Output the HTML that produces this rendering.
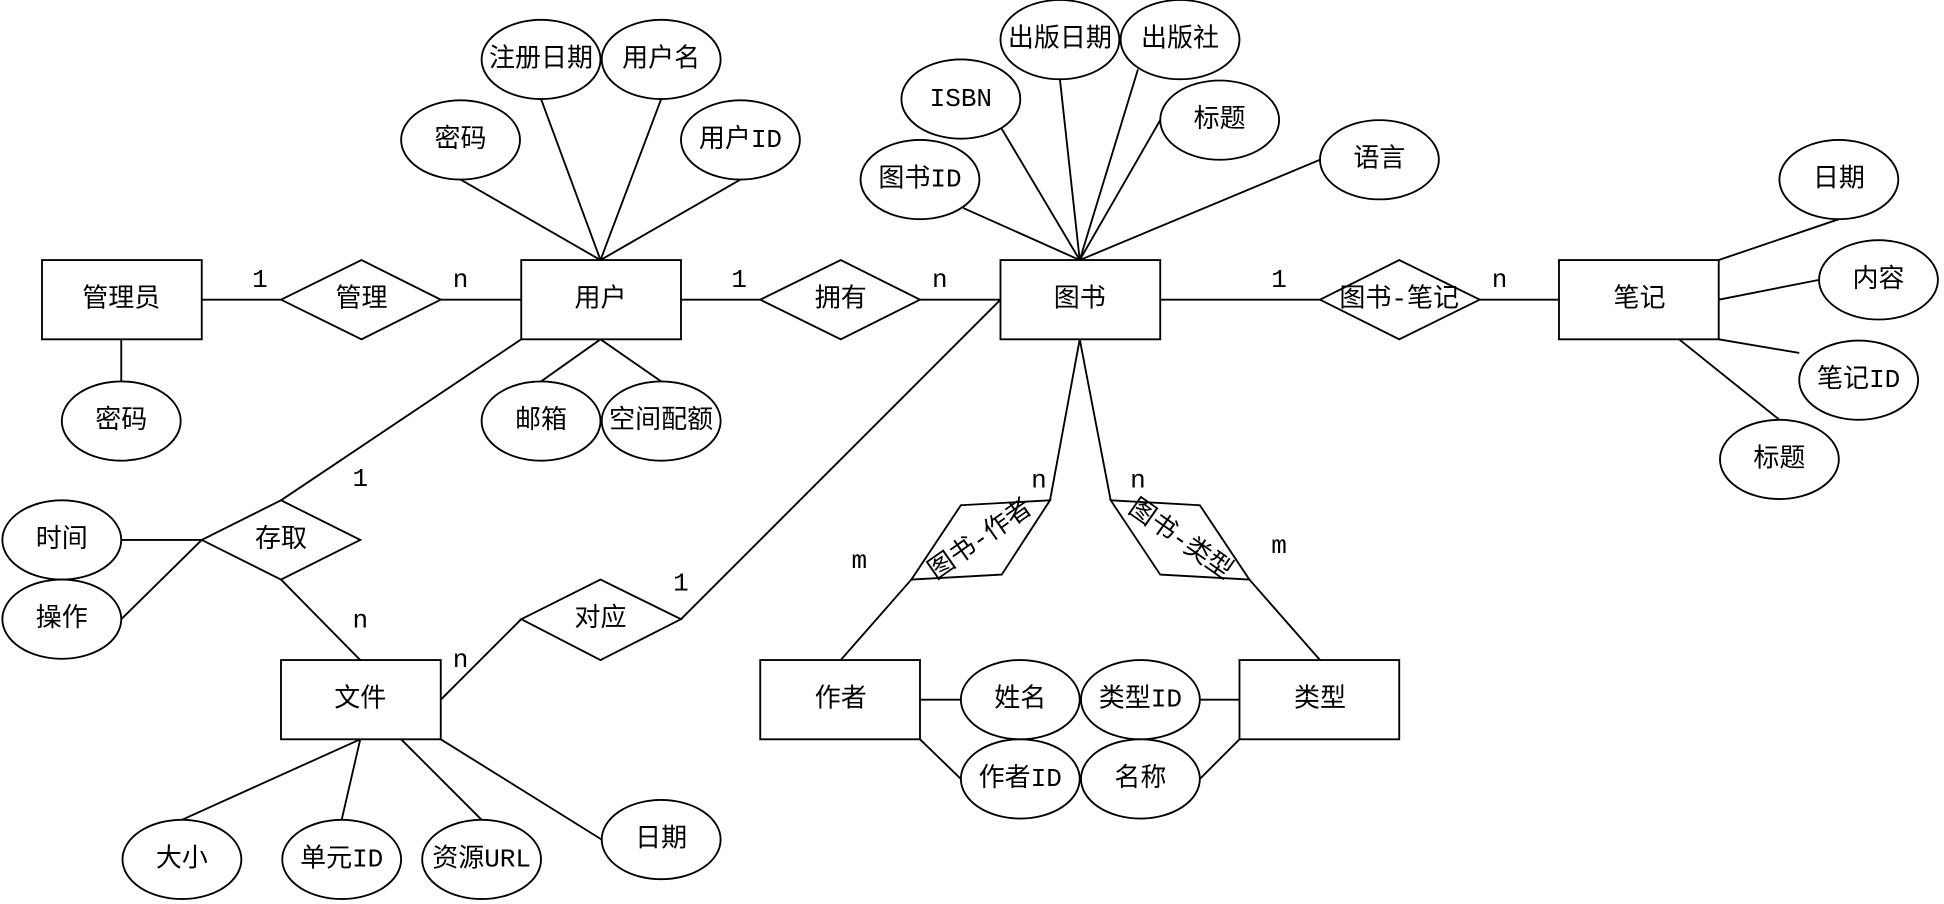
<!DOCTYPE html>
<html><head><meta charset="utf-8"><style>
html,body{margin:0;padding:0;background:#fff;}
svg{display:block;}
text{font-family:"Liberation Mono","Noto Sans CJK SC",monospace;font-size:21px;fill:#000;text-anchor:middle;dominant-baseline:central;}
</style></head><body>
<svg width="1944" height="904" viewBox="0 0 1568 730" xmlns="http://www.w3.org/2000/svg">
<g stroke="#000" stroke-width="1.5" fill="none">
<line x1="97" y1="274" x2="97" y2="308"/>
<line x1="162" y1="242" x2="226" y2="242"/>
<line x1="355" y1="242" x2="420" y2="242"/>
<line x1="371" y1="145" x2="484" y2="210"/>
<line x1="436" y1="80" x2="484" y2="210"/>
<line x1="533" y1="80" x2="484" y2="210"/>
<line x1="597" y1="145" x2="484" y2="210"/>
<line x1="436" y1="308" x2="484" y2="274"/>
<line x1="533" y1="308" x2="484" y2="274"/>
<line x1="549" y1="242" x2="613" y2="242"/>
<line x1="742" y1="242" x2="807" y2="242"/>
<line x1="808" y1="104" x2="871" y2="210"/>
<line x1="855" y1="64" x2="871" y2="210"/>
<line x1="918" y1="56" x2="871" y2="210"/>
<line x1="936" y1="97" x2="871" y2="210"/>
<line x1="1065" y1="129" x2="871" y2="210"/>
<line x1="777" y1="168" x2="871" y2="210"/>
<line x1="936" y1="242" x2="1065" y2="242"/>
<line x1="1194" y1="242" x2="1258" y2="242"/>
<line x1="1387" y1="210" x2="1484" y2="177"/>
<line x1="1387" y1="242" x2="1468" y2="226"/>
<line x1="1387" y1="274" x2="1452" y2="285"/>
<line x1="1355" y1="274" x2="1436" y2="339"/>
<line x1="97" y1="436" x2="162" y2="436"/>
<line x1="97" y1="500" x2="162" y2="436"/>
<line x1="420" y1="274" x2="226" y2="404"/>
<line x1="226" y1="468" x2="290" y2="533"/>
<line x1="355" y1="565" x2="420" y2="500"/>
<line x1="549" y1="500" x2="807" y2="242"/>
<line x1="290" y1="597" x2="146" y2="662"/>
<line x1="290" y1="597" x2="275" y2="662"/>
<line x1="323" y1="597" x2="388" y2="662"/>
<line x1="355" y1="597" x2="485" y2="678"/>
<line x1="871" y1="274" x2="847" y2="404"/>
<line x1="735" y1="468" x2="678" y2="533"/>
<line x1="871" y1="274" x2="896" y2="404"/>
<line x1="1008" y1="468" x2="1065" y2="533"/>
<line x1="742" y1="565" x2="775" y2="565"/>
<line x1="968" y1="565" x2="1000" y2="565"/>
<line x1="742" y1="597" x2="775" y2="629"/>
<line x1="968" y1="629" x2="1000" y2="597"/>
</g>
<g stroke="#000" stroke-width="1.5" fill="#fff">
<rect x="33" y="210" width="129" height="64"/>
<rect x="420" y="210" width="129" height="64"/>
<rect x="807" y="210" width="129" height="64"/>
<rect x="1258" y="210" width="129" height="64"/>
<rect x="226" y="533" width="129" height="64"/>
<rect x="613" y="533" width="129" height="64"/>
<rect x="1000" y="533" width="129" height="64"/>
<polygon points="226,242 291,210 355,242 291,274"/>
<polygon points="613,242 678,210 742,242 678,274"/>
<polygon points="1065,242 1129,210 1194,242 1129,274"/>
<polygon points="162,436 226,404 290,436 226,468"/>
<polygon points="420,500 484,468 549,500 484,533"/>
<polygon points="847,404 775,408 735,468 808,464"/>
<polygon points="896,404 968,408 1008,468 936,464"/>
<ellipse cx="97" cy="340" rx="48" ry="32"/>
<ellipse cx="371" cy="113" rx="48" ry="32"/>
<ellipse cx="436" cy="48" rx="48" ry="32"/>
<ellipse cx="533" cy="48" rx="48" ry="32"/>
<ellipse cx="597" cy="113" rx="48" ry="32"/>
<ellipse cx="436" cy="340" rx="48" ry="32"/>
<ellipse cx="533" cy="340" rx="48" ry="32"/>
<ellipse cx="775" cy="80" rx="48" ry="32"/>
<ellipse cx="855" cy="32" rx="48" ry="32"/>
<ellipse cx="952" cy="32" rx="48" ry="32"/>
<ellipse cx="984" cy="97" rx="48" ry="32"/>
<ellipse cx="1113" cy="129" rx="48" ry="32"/>
<ellipse cx="742" cy="145" rx="48" ry="32"/>
<ellipse cx="1484" cy="145" rx="48" ry="32"/>
<ellipse cx="1516" cy="226" rx="48" ry="32"/>
<ellipse cx="1500" cy="307" rx="48" ry="32"/>
<ellipse cx="1436" cy="371" rx="48" ry="32"/>
<ellipse cx="49" cy="436" rx="48" ry="32"/>
<ellipse cx="49" cy="500" rx="48" ry="32"/>
<ellipse cx="146" cy="694" rx="48" ry="32"/>
<ellipse cx="275" cy="694" rx="48" ry="32"/>
<ellipse cx="388" cy="694" rx="48" ry="32"/>
<ellipse cx="533" cy="678" rx="48" ry="32"/>
<ellipse cx="823" cy="565" rx="48" ry="32"/>
<ellipse cx="920" cy="565" rx="48" ry="32"/>
<ellipse cx="823" cy="629" rx="48" ry="32"/>
<ellipse cx="920" cy="629" rx="48" ry="32"/>
</g>
<text x="97" y="242">管理员</text>
<text x="97" y="340">密码</text>
<text x="291" y="242">管理</text>
<text x="484" y="242">用户</text>
<text x="371" y="113">密码</text>
<text x="436" y="48">注册日期</text>
<text x="533" y="48">用户名</text>
<text x="597" y="113">用户ID</text>
<text x="436" y="340">邮箱</text>
<text x="533" y="340">空间配额</text>
<text x="678" y="242">拥有</text>
<text x="871" y="242">图书</text>
<text x="775" y="80">ISBN</text>
<text x="855" y="32">出版日期</text>
<text x="952" y="32">出版社</text>
<text x="984" y="97">标题</text>
<text x="1113" y="129">语言</text>
<text x="742" y="145">图书ID</text>
<text x="1129" y="242">图书-笔记</text>
<text x="1323" y="242">笔记</text>
<text x="1484" y="145">日期</text>
<text x="1516" y="226">内容</text>
<text x="1500" y="307">笔记ID</text>
<text x="1436" y="371">标题</text>
<text x="226" y="436">存取</text>
<text x="49" y="436">时间</text>
<text x="49" y="500">操作</text>
<text x="484" y="500">对应</text>
<text x="290" y="565">文件</text>
<text x="146" y="694">大小</text>
<text x="275" y="694">单元ID</text>
<text x="388" y="694">资源URL</text>
<text x="533" y="678">日期</text>
<text x="678" y="565">作者</text>
<text x="1065" y="565">类型</text>
<text x="823" y="565">姓名</text>
<text x="920" y="565">类型ID</text>
<text x="823" y="629">作者ID</text>
<text x="920" y="629">名称</text>
<text x="791" y="436" transform="rotate(-35 791 436)">图书-作者</text>
<text x="952" y="436" transform="rotate(35 952 436)">图书-类型</text>
<text x="209" y="226">1</text>
<text x="371" y="226">n</text>
<text x="596" y="226">1</text>
<text x="758" y="226">n</text>
<text x="1032" y="226">1</text>
<text x="1210" y="226">n</text>
<text x="290" y="387">1</text>
<text x="290" y="501">n</text>
<text x="371" y="533">n</text>
<text x="549" y="471">1</text>
<text x="838" y="388">n</text>
<text x="693" y="453">m</text>
<text x="918" y="388">n</text>
<text x="1032" y="441">m</text>
</svg>
</body></html>
